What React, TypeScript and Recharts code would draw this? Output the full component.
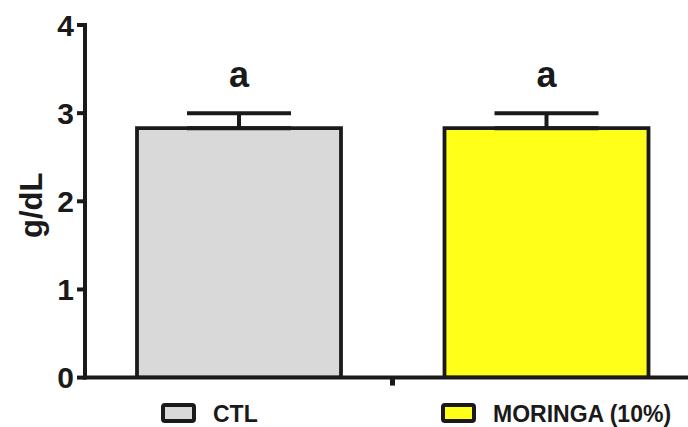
import React from 'react';
import { BarChart, Bar, XAxis, YAxis, ErrorBar, Cell, LabelList, Label } from 'recharts';

const categories = ['CTL', 'MORINGA (10%)'];
const means = [2.83, 2.83];
const errors = [0.17, 0.17];
const letters = ['a', 'a'];
const yTicks = [0, 1, 2, 3, 4];
const xTicks = [1];
const yLabel = 'g/dL';

const FILLS = ['#d9d9d9', '#ffff1a'];
const INK = '#1a1a1a';
const FONT = '"Liberation Sans", Arial, Helvetica, sans-serif';

const data = categories.map((c, i) => ({
  name: c,
  pos: i + 0.5,
  value: means[i],
  err: [0, errors[i]],
  letter: letters[i],
}));

const LetterLabel = (props: any) => {
  const { x, y, width, value } = props;
  return (
    <text x={x + width / 2} y={y - 41} textAnchor="middle" fontFamily={FONT} fontWeight="bold" fontSize={36} fill={INK}>
      {value}
    </text>
  );
};

const YLabel = (props: any) => {
  const vb = props.viewBox || { y: 25, height: 352 };
  const cx = 42;
  const cy = vb.y + vb.height / 2 + 4;
  return (
    <text x={cx} y={cy} transform={`rotate(-90, ${cx}, ${cy})`} textAnchor="middle" fontFamily={FONT} fontWeight="bold" fontSize={31} fill={INK}>
      {yLabel}
    </text>
  );
};

const legendX = [161, 441];

const LegendRow = () => (
  <svg width={688} height={29} style={{ position: 'absolute', left: 0, top: 398 }}>
    {categories.map((c, i) => (
      <g key={c}>
        <rect x={legendX[i] + 2} y={7} width={31} height={16} rx={2} fill={FILLS[i]} stroke={INK} strokeWidth={4} />
        <text x={legendX[i] + 52} y={23.7} fontFamily={FONT} fontWeight="bold" fontSize={23} fill={INK}>
          {c}
        </text>
      </g>
    ))}
  </svg>
);

export default function App() {
  return (
    <div style={{ position: 'fixed', left: 0, top: 0, width: 688, height: 427, overflow: 'hidden', background: '#ffffff' }}>
      <BarChart width={710} height={427} data={data} margin={{ top: 25, right: 10, left: 0, bottom: 48.4 }} barSize={204}>
        <XAxis
          dataKey="pos"
          type="number"
          domain={[0, 2]}
          ticks={xTicks}
          allowDataOverflow
          interval={0}
          tick={{ fill: 'none', fontSize: 1 }}
          tickFormatter={() => ''}
          tickSize={8}
          height={1}
          axisLine={{ stroke: INK, strokeWidth: 4, strokeLinecap: 'square' }}
          tickLine={{ stroke: INK, strokeWidth: 5 }}
        />
        <YAxis
          type="number"
          domain={[0, 4]}
          ticks={yTicks}
          allowDataOverflow
          width={85}
          tickSize={8}
          tickMargin={3}
          axisLine={{ stroke: INK, strokeWidth: 4, strokeLinecap: 'square' }}
          tickLine={{ stroke: INK, strokeWidth: 4 }}
          tick={{ fill: INK, fontFamily: FONT, fontWeight: 'bold', fontSize: 30 }}
        >
          <Label content={<YLabel />} />
        </YAxis>
        <Bar dataKey="value" stroke={INK} strokeWidth={3.8} isAnimationActive={false}>
          {data.map((d, i) => (
            <Cell key={d.name} fill={FILLS[i]} />
          ))}
          <ErrorBar dataKey="err" width={52} stroke={INK} strokeWidth={4} direction="y" isAnimationActive={false} />
          <LabelList dataKey="letter" content={<LetterLabel />} />
        </Bar>
      </BarChart>
      <LegendRow />
    </div>
  );
}
